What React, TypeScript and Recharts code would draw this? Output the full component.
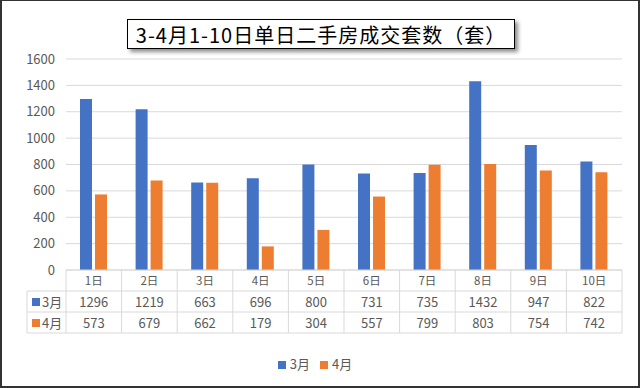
import React from "react";
import { BarChart, Bar, XAxis, YAxis, CartesianGrid, Legend } from "recharts";

const days = ["1日", "2日", "3日", "4日", "5日", "6日", "7日", "8日", "9日", "10日"];
const march = [1296, 1219, 663, 696, 800, 731, 735, 1432, 947, 822];
const april = [573, 679, 662, 179, 304, 557, 799, 803, 754, 742];
const seriesNames = ["3月", "4月"];
const seriesColors = ["#4472C4", "#ED7D31"];
const yTicks = [0, 200, 400, 600, 800, 1000, 1200, 1400, 1600];
const title = "3-4月1-10日单日二手房成交套数（套）";

const data = days.map((d, i) => ({ day: d, m3: march[i], m4: april[i] }));

const FONT = "'Noto Sans CJK SC', 'Noto Sans', sans-serif";
const TEXT = "#595959";
const GRID = "#d9d9d9";
const PLOT_LEFT = 66;
const PLOT_RIGHT = 622;
const COL_W = (PLOT_RIGHT - PLOT_LEFT) / days.length;
const ROW_H = 21;
const HEAD_W = 39;

function TableTick(props: any) {
  const { x, y, payload, index } = props;
  const top = y;
  const left = x - COL_W / 2;
  const right = x + COL_W / 2;
  const i = index as number;
  const rows = [march[i], april[i]];
  return (
    <g>
      <line x1={right} y1={top} x2={right} y2={top + ROW_H * 3} stroke={GRID} />
      {i === 0 && <line x1={left} y1={top} x2={left} y2={top + ROW_H * 3} stroke={GRID} />}
      {[1, 2, 3].map((r) => (
        <line key={r} x1={i === 0 ? left - HEAD_W : left} y1={top + ROW_H * r} x2={right} y2={top + ROW_H * r} stroke={GRID} />
      ))}
      {i === 0 && (
        <g>
          <line x1={left - HEAD_W} y1={top + ROW_H} x2={left - HEAD_W} y2={top + ROW_H * 3} stroke={GRID} />
          {seriesNames.map((n, k) => (
            <g key={n}>
              <rect x={left - HEAD_W + 5} y={top + ROW_H * (k + 1) + 7} width={8} height={8} fill={seriesColors[k]} />
              <text x={left - HEAD_W + 15} y={top + ROW_H * (k + 1) + 15.5} fontSize={13} fill={TEXT} fontFamily={FONT}>{n}</text>
            </g>
          ))}
        </g>
      )}
      <text x={x} y={top + 15} textAnchor="middle" fontSize={11.5} fill={TEXT} fontFamily={FONT}>{payload.value}</text>
      {rows.map((v, k) => (
        <text key={k} x={x} y={top + ROW_H * (k + 1) + 15.5} textAnchor="middle" fontSize={13} fill={TEXT} fontFamily={FONT}>{v}</text>
      ))}
    </g>
  );
}

export default function App() {
  return (
    <div style={{ position: "absolute", left: 0, top: 0, width: 640, height: 388, background: "#fff", fontFamily: FONT }}>
      <BarChart
        width={640}
        height={388}
        data={data}
        margin={{ top: 59, right: 640 - PLOT_RIGHT, left: 6, bottom: 48 }}
        barSize={12}
        barGap={3}
      >
        <CartesianGrid vertical={false} stroke={GRID} />
        <YAxis
          width={60}
          domain={[0, 1600]}
          ticks={yTicks}
          axisLine={false}
          tickLine={false}
          tickSize={0}
          tickMargin={11}
          tick={{ fontSize: 13, fill: TEXT, fontFamily: FONT }}
        />
        <XAxis
          dataKey="day"
          height={70}
          axisLine={{ stroke: GRID }}
          tickLine={false}
          tickSize={0}
          tickMargin={0}
          interval={0}
          tick={<TableTick />}
        />
        <Legend
          iconType="square"
          iconSize={8}
          layout="horizontal"
          align="center"
          verticalAlign="middle"
          wrapperStyle={{ position: "absolute", top: 354, left: 0, width: 640, fontSize: 13, color: TEXT }}
          formatter={(v: any) => <span style={{ color: TEXT }}>{v}</span>}
        />
        <Bar dataKey="m3" name={seriesNames[0]} fill={seriesColors[0]} isAnimationActive={false} />
        <Bar dataKey="m4" name={seriesNames[1]} fill={seriesColors[1]} isAnimationActive={false} />
      </BarChart>
      <div
        style={{
          position: "absolute",
          left: 127,
          top: 19,
          width: 388,
          height: 30,
          boxSizing: "border-box",
          border: "1.5px solid #000",
          background: "#fff",
          boxShadow: "3px 3px 4px rgba(0,0,0,0.45)",
          display: "flex",
          alignItems: "center",
          justifyContent: "center",
          fontSize: 20,
          letterSpacing: 1,
          color: "#000",
          fontFamily: FONT,
        }}
      >
        {title}
      </div>
      <div
        style={{
          position: "absolute",
          left: 0,
          top: 0,
          width: 640,
          height: 388,
          boxSizing: "border-box",
          borderTop: "1px solid #333",
          borderLeft: "2px solid #333",
          borderRight: "2px solid #333",
          borderBottom: "2px solid #333",
          pointerEvents: "none",
        }}
      />
    </div>
  );
}
